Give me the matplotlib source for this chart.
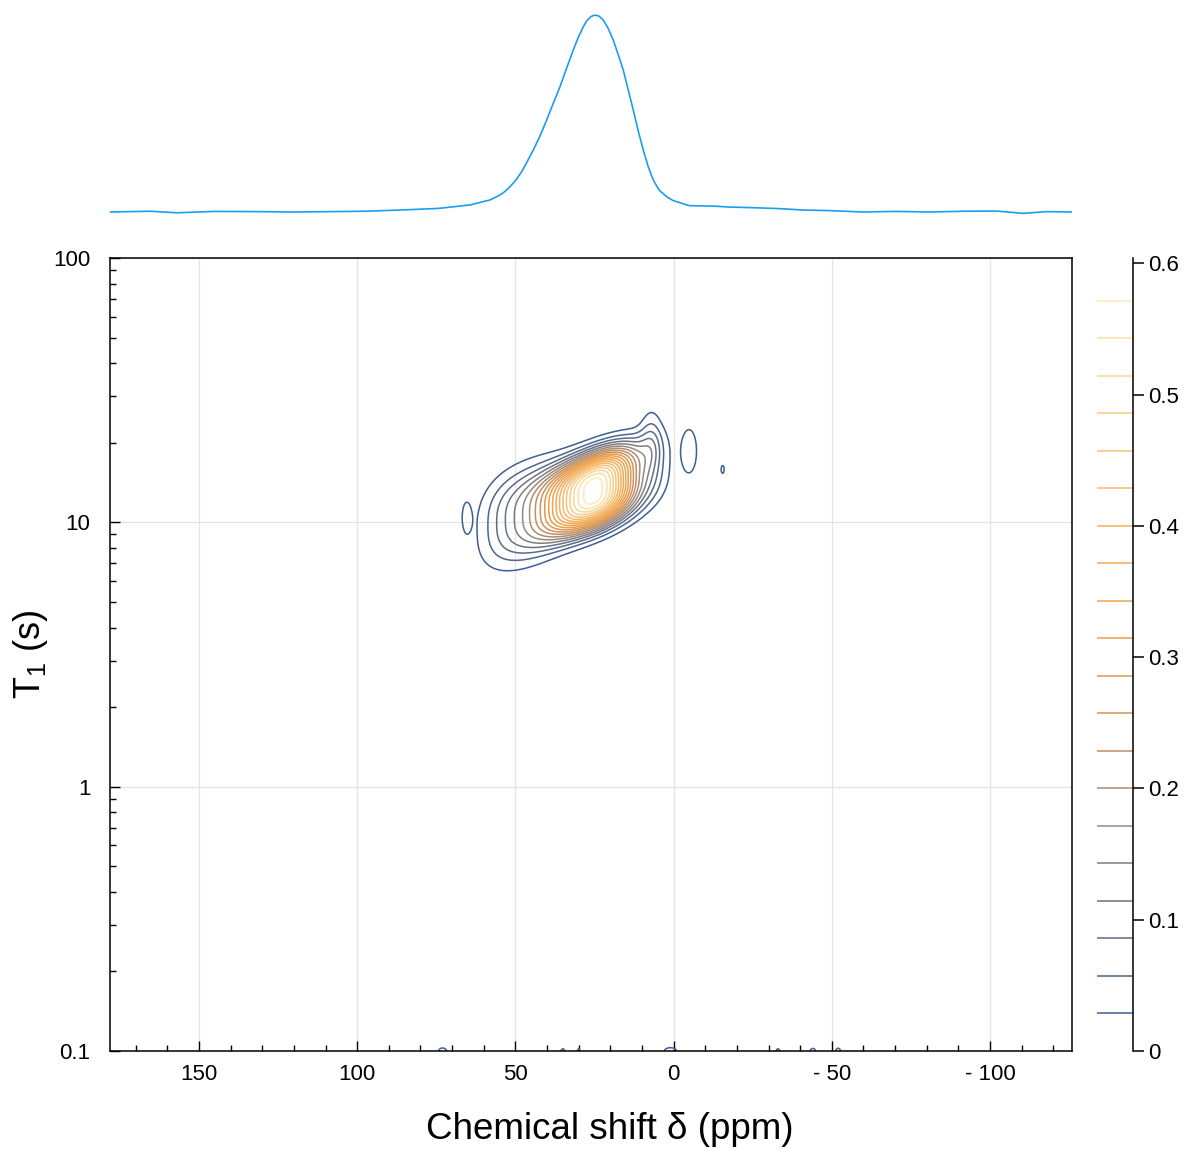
import numpy as np
import matplotlib
matplotlib.use("Agg")
import matplotlib.pyplot as plt
from matplotlib.colors import LinearSegmentedColormap
from matplotlib.ticker import FixedLocator, LogLocator, NullFormatter

plt.rcParams['font.family'] = ['Liberation Sans', 'DejaVu Sans']
plt.rcParams['mathtext.fontset'] = 'custom'
plt.rcParams['mathtext.rm'] = 'Liberation Sans'
plt.rcParams['mathtext.it'] = 'Liberation Sans'

# ---- 1D projection (ppm, intensity) ----
proj_ppm = [178.1, 165.5, 157.0, 145.0, 131.8, 120.0, 107.6, 97.0, 86.5, 76.0, 73.8,
            65.4, 64.3, 59.1, 58.0,
            54.87, 53.29, 51.71, 49.81, 48.01, 46.33, 44.34, 42.22, 40.11, 38.12, 35.90,
            33.79, 31.70, 30.21, 28.54, 27.37, 26.11, 24.84, 23.58, 22.22, 20.73, 19.06,
            17.57, 15.90, 14.41, 12.74, 11.25, 9.58, 8.09, 6.42, 4.61, 2.18, 0.19, -2.02,
            -4.14, -5.2, -12.5, -17.8, -25.0, -33.6, -41.0, -49.4, -59.9, -70.0, -81.0,
            -92.0, -102.1, -110.4, -117.9, -125.8]
proj_int = [0.0, 0.004, -0.004, 0.003, 0.002, 0.000, 0.002, 0.004, 0.010, 0.017, 0.019,
            0.034, 0.036, 0.057, 0.061,
            0.0863, 0.1041, 0.1284, 0.1624, 0.2046, 0.2538, 0.3147, 0.3858, 0.4670, 0.5482, 0.6360,
            0.7310, 0.8223, 0.8832, 0.9407, 0.9721, 0.9924, 1.0, 0.9949, 0.9746, 0.9340, 0.8731,
            0.8020, 0.7208, 0.6244, 0.5178, 0.4162, 0.3147, 0.2335, 0.1624, 0.1117, 0.0777, 0.0584, 0.0472,
            0.0355, 0.032, 0.030, 0.025, 0.022, 0.017, 0.010, 0.007, 0.0, 0.003, 0.0,
            0.004, 0.005, -0.007, 0.002, 0.0]

# ---- 2D T1 / shift correlation: peak components ----
comp_ppm    = [25.0, 45.0, 54.0, 7.0, 65.5, -5.0, -15.5, 73.0, 35.0, 30.0, 1.0, -33.0, -44.0, -52.0]
comp_logT   = [1.12, 1.04, 1.01, 1.30, 1.02, 1.27, 1.20, -1.0, -1.0, -1.0, -1.0, -1.0, -1.0, -1.0]
comp_amp    = [0.59, 0.08, 0.045, 0.06, 0.04, 0.05, 0.034, 0.042, 0.038, 0.036, 0.045, 0.038, 0.04, 0.042]
comp_sppm_l = [11.0, 8.0, 6.0, 2.5, 1.2, 2.0, 0.8, 1.4, 0.7, 0.5, 2.0, 0.7, 1.0, 0.8]
comp_sppm_r = [9.5, 8.0, 6.0, 2.5, 1.2, 2.0, 0.8, 1.4, 0.7, 0.5, 2.0, 0.7, 1.0, 0.8]
comp_slogT  = [0.11, 0.15, 0.12, 0.09, 0.05, 0.07, 0.025, 0.013, 0.011, 0.011, 0.013, 0.011, 0.012, 0.012]
comp_power  = [3, 3, 2.5, 2, 2, 2, 2, 2, 2, 2, 2, 2, 2, 2]
comp_shear  = [-0.0044, -0.0044, -0.0044, 0.0, 0.0, 0.0, 0.0, 0.0, 0.0, 0.0, 0.0, 0.0, 0.0, 0.0]

levels = [0.6 * i / 21 for i in range(1, 21)]
cbar_ticks = [0, 0.1, 0.2, 0.3, 0.4, 0.5, 0.6]
cbar_labels = ["0", "0.1", "0.2", "0.3", "0.4", "0.5", "0.6"]
x_ticks = [150, 100, 50, 0, -50, -100]
x_labels = ["150", "100", "50", "0", "- 50", "- 100"]
y_ticks = [0.1, 1, 10, 100]
y_labels = ["0.1", "1", "10", "100"]

cmap = LinearSegmentedColormap.from_list("nmr", [
    (0.0, '#3a5c93'), (0.048, '#3e5f95'), (0.19, '#6c7283'), (0.29, '#9a8a7e'),
    (0.38, '#c08f65'), (0.52, '#ec9c45'), (0.67, '#f4b05e'), (0.81, '#f8cc85'),
    (0.95, '#fde9b5'), (1.0, '#fff0c8')])

# field on a grid
ppm = np.linspace(180, -130, 1500)
logT = np.linspace(-1.06, 2.06, 1000)
P, L = np.meshgrid(ppm, logT)
Z = np.zeros_like(P)
for c, lt, a, sl_, sr_, sy, pw, sh in zip(comp_ppm, comp_logT, comp_amp, comp_sppm_l,
                                          comp_sppm_r, comp_slogT, comp_power, comp_shear):
    sp = np.where(P > c, sl_, sr_)
    Lc = lt + sh * (P - c)
    Z += a * np.exp(-0.5 * ((P - c) / sp) ** 2 - 0.5 * np.abs((L - Lc) / sy) ** pw)

W, H = 1188, 1150
fig = plt.figure(figsize=(W / 100, H / 100), dpi=100)

def ax_px(l, t, r, b):
    return fig.add_axes([l / W, 1 - b / H, (r - l) / W, (b - t) / H])

xlim = (178.1, -125.9)

# main axes
ax = ax_px(110, 258, 1072, 1051)
ax.contour(P, 10 ** L, Z, levels=levels, cmap=cmap, vmin=0, vmax=0.6, linewidths=1.1)
ax.set_yscale('log')
ax.set_xlim(*xlim)
ax.set_ylim(0.1, 100)
ax.xaxis.set_major_locator(FixedLocator(x_ticks))
ax.set_xticklabels(x_labels)
ax.xaxis.set_minor_locator(FixedLocator(np.arange(-120, 180, 10)))
ax.yaxis.set_major_locator(FixedLocator(y_ticks))
ax.set_yticklabels(y_labels)
ax.yaxis.set_minor_locator(LogLocator(base=10, subs=np.arange(2, 10)))
ax.yaxis.set_minor_formatter(NullFormatter())
ax.tick_params(which='both', direction='in', top=False, right=False, labelsize=16, width=1)
ax.tick_params(which='major', length=7)
ax.tick_params(which='minor', length=4)
ax.tick_params(axis='x', which='major', pad=9)
ax.tick_params(axis='y', which='major', pad=14)
ax.grid(True, which='major', color='#e4e4e4', linewidth=0.9)
ax.set_axisbelow(True)
for s in ax.spines.values():
    s.set_linewidth(1.1)
ax.set_xlabel("Chemical shift δ (ppm)", fontsize=26.5)
ax.xaxis.set_label_coords(0.52, -0.0765)
ax.set_ylabel("T$_1$ (s)", fontsize=26)
ax.yaxis.set_label_coords(-0.062, 0.5)

# top projection
axt = ax_px(110, 5, 1072, 225)
axt.plot(proj_ppm, proj_int, color='#1a9ef0', linewidth=1.2)
axt.set_xlim(*xlim)
axt.set_ylim(-0.066, 1.051)
axt.axis('off')

# level scale
axc = ax_px(1097, 258, 1133, 1051)
axc.set_ylim(0, 0.604)
axc.set_xlim(0, 1)
norm = plt.Normalize(0, 0.6)
for lv in levels:
    axc.hlines(lv, 0, 1, color=cmap(norm(lv)), linewidth=1.1)
for side in ['left', 'top', 'bottom']:
    axc.spines[side].set_visible(False)
axc.spines['right'].set_linewidth(1.1)
axc.set_xticks([])
axc.yaxis.tick_right()
axc.set_yticks(cbar_ticks)
axc.set_yticklabels(cbar_labels)
axc.tick_params(axis='y', direction='out', length=8, width=1.1, labelsize=16, pad=3)

fig.savefig("out.png", dpi=100)
